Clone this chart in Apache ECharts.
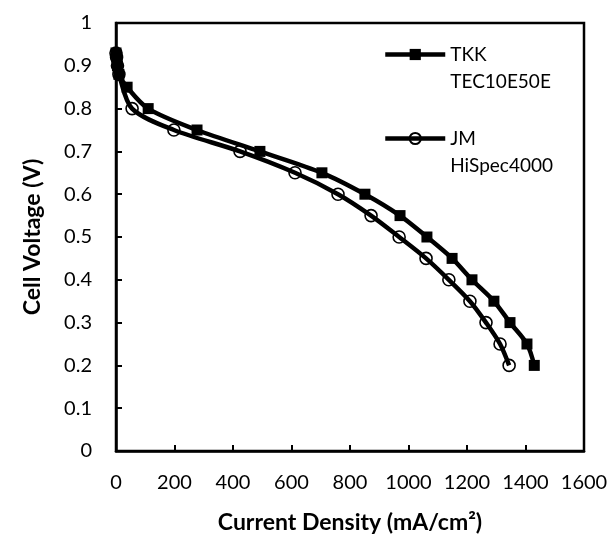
<!DOCTYPE html>
<html>
<head>
<meta charset="utf-8">
<script src="https://cdn.jsdelivr.net/npm/echarts@6/dist/echarts.min.js"></script>
<style>
html,body{margin:0;padding:0;background:#fff;}
#chart{width:612px;height:535px;}
</style>
</head>
<body>
<div id="chart"></div>
<script>
// Data
var seriesNames = ['TKK', 'JM'];
var legendLabels = ['TKK\nTEC10E50E', 'JM\nHiSpec4000'];
var tkkCurrent = [0, 2, 5, 10, 38, 110, 277, 492, 704, 851, 971, 1063, 1149, 1217, 1292, 1347, 1405, 1430];
var tkkVoltage = [0.93, 0.92, 0.90, 0.88, 0.85, 0.80, 0.75, 0.70, 0.65, 0.60, 0.55, 0.50, 0.45, 0.40, 0.35, 0.30, 0.25, 0.20];
var jmCurrent = [0, 2, 5, 10, 55, 198, 424, 612, 759, 872, 968, 1060, 1138, 1210, 1265, 1313, 1344];
var jmVoltage = [0.93, 0.92, 0.90, 0.88, 0.80, 0.75, 0.70, 0.65, 0.60, 0.55, 0.50, 0.45, 0.40, 0.35, 0.30, 0.25, 0.20];
var xAxisTitle = 'Current Density (mA/cm²)';
var yAxisTitle = 'Cell Voltage (V)';

function pairs(xs, ys) {
  return xs.map(function (x, i) { return [x, ys[i]]; });
}

var FONT = 'Lato';
var chart = echarts.init(document.getElementById('chart'), null, {renderer: 'canvas'});
chart.setOption({
  animation: false,
  backgroundColor: '#fff',
  grid: {
    left: 116, right: 28, top: 23, bottom: 84,
    containLabel: false, outerBoundsMode: 'none',
    show: true, borderColor: '#000', borderWidth: 2.5, backgroundColor: 'transparent'
  },
  legend: {
    orient: 'vertical',
    left: 383,
    top: 14,
    padding: 0,
    itemGap: 3,
    itemWidth: 60,
    itemHeight: 14,
    lineStyle: { width: 4.5, color: '#000' },
    data: seriesNames,
    formatter: function (name) {
      return ' \n' + legendLabels[seriesNames.indexOf(name)];
    },
    textStyle: { fontFamily: FONT, fontSize: 19, color: '#000', lineHeight: 27 }
  },
  xAxis: {
    type: 'value', min: 0, max: 1600, interval: 200,
    name: xAxisTitle, nameLocation: 'middle', nameGap: 60,
    nameTextStyle: { fontFamily: FONT, fontSize: 23, fontWeight: 'bold', color: '#000' },
    axisLine: { show: true, lineStyle: { color: '#000', width: 2.5 } },
    axisTick: { show: true, inside: true, length: 6, lineStyle: { color: '#000', width: 2 } },
    axisLabel: { fontFamily: FONT, fontSize: 20, color: '#000', margin: 22,
      formatter: function (v) { return String(v); } },
    splitLine: { show: false }
  },
  yAxis: {
    type: 'value', min: 0, max: 1, interval: 0.1,
    name: yAxisTitle, nameLocation: 'middle', nameGap: 72, nameRotate: 90,
    nameTextStyle: { fontFamily: FONT, fontSize: 23, fontWeight: 'bold', color: '#000' },
    axisLine: { show: true, lineStyle: { color: '#000', width: 2.5 } },
    axisTick: { show: true, inside: true, length: 6, lineStyle: { color: '#000', width: 2 } },
    axisLabel: { fontFamily: FONT, fontSize: 20, color: '#000', margin: 24 },
    splitLine: { show: false }
  },
  series: [
    {
      name: seriesNames[0], type: 'line', smooth: 0.3,
      data: pairs(tkkCurrent, tkkVoltage),
      symbol: 'rect', symbolSize: 11,
      lineStyle: { color: '#000', width: 4.5 },
      itemStyle: { color: '#000', borderColor: '#000', borderWidth: 0 },
      z: 3
    },
    {
      name: seriesNames[1], type: 'line', smooth: 0.3,
      data: pairs(jmCurrent, jmVoltage),
      symbol: 'circle', symbolSize: 12,
      lineStyle: { color: '#000', width: 4.5 },
      itemStyle: { color: 'rgba(0,0,0,0)', borderColor: '#000', borderWidth: 1.6 },
      z: 2
    }
  ]
});
</script>
</body>
</html>
